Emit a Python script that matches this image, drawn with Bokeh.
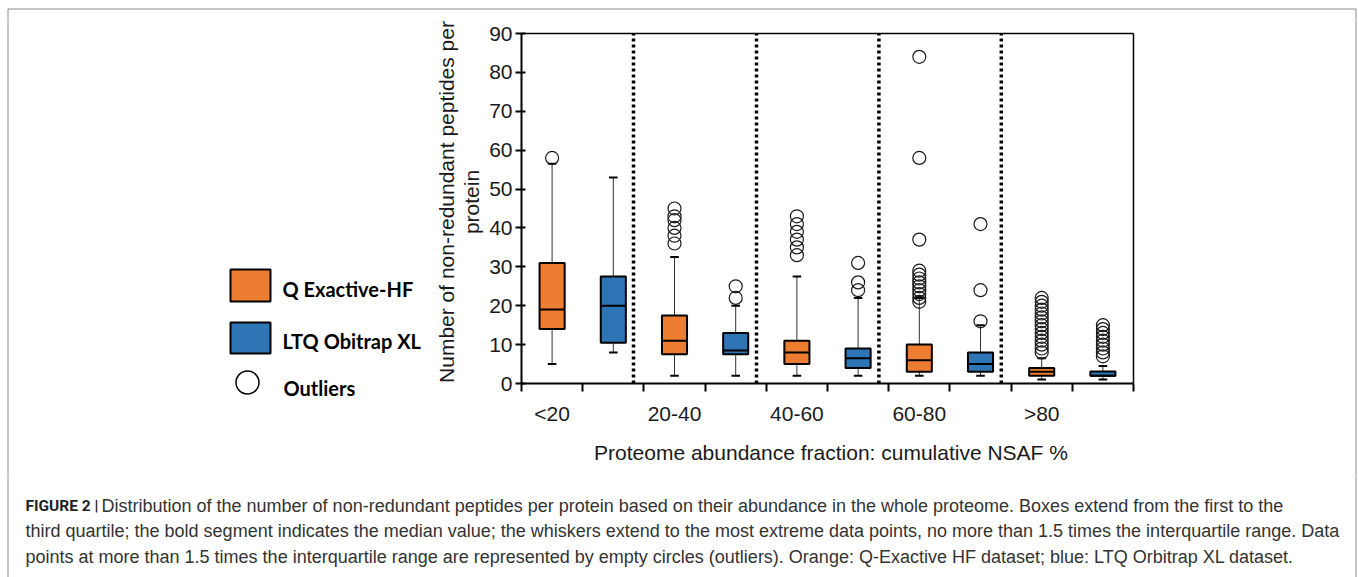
from bokeh.plotting import figure
from bokeh.layouts import column, row
from bokeh.models import Range1d, FixedTicker, ColumnDataSource
from bokeh.core.properties import value
from bokeh.embed import file_html
from bokeh.resources import INLINE

# ---------------- data ----------------
groups = ["<20", "20-40", "40-60", "60-80", ">80"]
series_names = ["Q Exactive-HF", "LTQ Obitrap XL"]
series_colors = ["#ED7D31", "#2E75B6"]

qe_whisker_low = [5, 2, 2, 2, 1]
qe_q1 = [14, 7.5, 5, 3, 2]
qe_median = [19, 11, 8, 6, 3]
qe_q3 = [31, 17.5, 11, 10, 4]
qe_whisker_high = [56.5, 32.5, 27.5, 22, 6.5]
qe_outliers = [
    [58],
    [36, 38, 40, 42, 43, 45],
    [33, 35, 37, 39, 41, 43],
    [21, 22, 23, 24, 25, 26, 27, 28, 29, 37, 58, 84],
    [8, 9, 10, 11, 12, 13, 14, 15, 16, 17, 18, 19, 20, 21, 22],
]

lo_whisker_low = [8, 2, 2, 2, 1]
lo_q1 = [10.5, 7.5, 4, 3, 2]
lo_median = [20, 8.5, 6.5, 5, 2]
lo_q3 = [27.5, 13, 9, 8, 3.1]
lo_whisker_high = [53, 20, 22, 15, 4.5]
lo_outliers = [
    [],
    [22, 25],
    [24, 26, 31],
    [16, 24, 41],
    [7, 8, 9, 10, 11, 12, 13, 14, 15],
]

y_ticks = [0, 10, 20, 30, 40, 50, 60, 70, 80, 90]
x_title = "Proteome abundance fraction: cumulative NSAF %"
y_title = "Number of non-redundant peptides per\nprotein"
legend_labels = series_names + ["Outliers"]
caption_bold = "FIGURE 2 |"
caption_lines = [
    "Distribution of the number of non-redundant peptides per protein based on their abundance in the whole proteome. Boxes extend from the first to the",
    "third quartile; the bold segment indicates the median value; the whiskers extend to the most extreme data points, no more than 1.5 times the interquartile range. Data",
    "points at more than 1.5 times the interquartile range are represented by empty circles (outliers). Orange: Q-Exactive HF dataset; blue: LTQ Orbitrap XL dataset.",
]

# ---------------- layout (page pixels) ----------------
PAGE_W, PAGE_H = 1358, 577
TOP_H = 20            # top strip holding the frame border
MID_BOTTOM = 475      # bottom of the chart row
LEG_W = 425           # legend column width
RIGHT_X = 1140        # where the right strip begins
PLOT_L, PLOT_T, PLOT_R, PLOT_B = 521, 33, 1133, 383   # plot box on the page
XMAX, YMAX = 10, 90
BOX_W = 0.41
CAP_W = 0.14
separators = [1.83, 3.84, 5.84, 7.84]
BORDER_L, BORDER_T, BORDER_R = 7.5, 8.5, 1355.5
BORDER_COLOR = "#8a8a8a"

mid_h = MID_BOTTOM - TOP_H


def no_align(f):
    if "frame_align" in f.properties():
        f.frame_align = False
    return f


def blank(w, h, x0, x1, y0, y1):
    f = figure(width=w, height=h, x_range=Range1d(x0, x1), y_range=Range1d(y1, y0),
               output_backend="svg", toolbar_location=None, title=None,
               x_axis_type=None, y_axis_type=None, min_border=0,
               outline_line_color=None)
    f.grid.visible = False
    return no_align(f)


# ---- top strip: border ----
top = blank(PAGE_W, TOP_H, 0, PAGE_W, 0, TOP_H)
top.segment(x0=[BORDER_L, BORDER_L, BORDER_R], y0=[BORDER_T, BORDER_T, BORDER_T],
            x1=[BORDER_R, BORDER_L, BORDER_R], y1=[BORDER_T, TOP_H, TOP_H],
            line_color=BORDER_COLOR, line_width=1)

# ---- legend column ----
leg = blank(LEG_W, mid_h, 0, LEG_W, TOP_H, MID_BOTTOM)
leg.segment(x0=[BORDER_L], y0=[TOP_H], x1=[BORDER_L], y1=[MID_BOTTOM],
            line_color=BORDER_COLOR, line_width=1)
leg.quad(left=[230, 230], right=[270, 270], top=[269, 322], bottom=[301, 353],
         fill_color=series_colors, line_color="black", line_width=2)
leg.scatter(x=[247], y=[382], size=23, marker="circle", fill_color=None,
            line_color="black", line_width=1.5)
leg.text(x=[282, 282, 283], y=[288, 340, 387], text=legend_labels,
         text_font=value("Lato"), text_font_style="bold", text_font_size="20px",
         text_color="black", text_baseline="middle", text_align="left")

# ---- main plot ----
main_w = RIGHT_X - LEG_W
px_per_x = (PLOT_R - PLOT_L) / XMAX
px_per_y = (PLOT_B - PLOT_T) / YMAX
x_end = (RIGHT_X - PLOT_L) / px_per_x
y_end = (PLOT_B - TOP_H) / px_per_y

p = figure(width=main_w, height=mid_h, x_range=Range1d(0, x_end), y_range=Range1d(0, y_end),
           output_backend="svg", toolbar_location=None, title=None,
           min_border_left=PLOT_L - LEG_W, min_border_right=0, min_border_top=0,
           min_border_bottom=MID_BOTTOM - PLOT_B, outline_line_color=None)
no_align(p)
p.xgrid.visible = False
p.ygrid.visible = False

stats = [
    (qe_whisker_low, qe_q1, qe_median, qe_q3, qe_whisker_high, qe_outliers),
    (lo_whisker_low, lo_q1, lo_median, lo_q3, lo_whisker_high, lo_outliers),
]

# dotted group separators
p.segment(x0=separators, y0=[0] * len(separators), x1=separators, y1=[YMAX] * len(separators),
          line_color="black", line_width=3.5, line_dash="3 3")

for s, (wl, q1, med, q3, wh, outs) in enumerate(stats):
    xs = [g * 2 + s + 0.5 for g in range(len(groups))]
    src = ColumnDataSource(dict(
        x=xs, wl=wl, q1=q1, med=med, q3=q3, wh=wh,
        bl=[x - BOX_W / 2 for x in xs], br=[x + BOX_W / 2 for x in xs],
        cl=[x - CAP_W / 2 for x in xs], cr=[x + CAP_W / 2 for x in xs],
    ))
    p.segment(x0="x", y0="wl", x1="x", y1="q1", source=src, line_color="#333333", line_width=1)
    p.segment(x0="x", y0="q3", x1="x", y1="wh", source=src, line_color="#333333", line_width=1)
    p.segment(x0="cl", y0="wl", x1="cr", y1="wl", source=src, line_color="black", line_width=2)
    p.segment(x0="cl", y0="wh", x1="cr", y1="wh", source=src, line_color="black", line_width=2)
    p.vbar(x="x", width=BOX_W, bottom="q1", top="q3", source=src,
           fill_color=series_colors[s], line_color="black", line_width=2)
    p.segment(x0="bl", y0="med", x1="br", y1="med", source=src, line_color="black", line_width=2)
    ox, oy = [], []
    for g, vals in enumerate(outs):
        for v in vals:
            ox.append(xs[g])
            oy.append(v)
    p.scatter(x=ox, y=oy, size=13, marker="circle", fill_color=None,
              line_color="#1a1a1a", line_width=1.2)

# top and right edges of the plot box
p.segment(x0=[0, XMAX], y0=[YMAX, 0], x1=[XMAX, XMAX], y1=[YMAX, YMAX],
          line_color="black", line_width=1.5)

# y axis
ya = p.yaxis[0]
ya.bounds = (0, YMAX)
ya.ticker = FixedTicker(ticks=y_ticks)
ya.axis_line_width = 2
ya.major_tick_line_width = 2
ya.major_tick_in = 4
ya.major_tick_out = 6
ya.minor_tick_line_color = None
ya.major_label_text_font = "Liberation Sans"
ya.major_label_text_font_size = "21px"
ya.major_label_text_color = "#1a1a1a"
ya.major_label_standoff = 3
ya.axis_label = y_title
ya.axis_label_text_font = "Liberation Sans"
ya.axis_label_text_font_size = "21px"
ya.axis_label_text_font_style = "normal"
ya.axis_label_text_color = "#1a1a1a"
ya.axis_label_text_line_height = 1.1
ya.axis_label_standoff = 3

# x axis
xa = p.xaxis[0]
xa.bounds = (0, XMAX)
xa.ticker = FixedTicker(ticks=[g * 2 + 0.5 for g in range(len(groups))],
                        minor_ticks=list(range(0, XMAX + 1)))
xa.major_label_overrides = {g * 2 + 0.5: lab for g, lab in enumerate(groups)}
xa.axis_line_width = 2
xa.major_tick_out = 0
xa.major_tick_in = 0
xa.minor_tick_out = 8
xa.minor_tick_in = 0
xa.minor_tick_line_width = 2
xa.minor_tick_line_color = "black"
xa.major_label_text_font = "Liberation Sans"
xa.major_label_text_font_size = "21px"
xa.major_label_text_color = "#1a1a1a"
xa.major_label_standoff = 10
xa.axis_label = x_title
xa.axis_label_text_font = "Liberation Sans"
xa.axis_label_text_font_size = "21px"
xa.axis_label_text_font_style = "normal"
xa.axis_label_text_color = "#1a1a1a"
xa.axis_label_standoff = 13

# ---- right strip: border ----
rgt = blank(PAGE_W - RIGHT_X, mid_h, RIGHT_X, PAGE_W, TOP_H, MID_BOTTOM)
rgt.segment(x0=[BORDER_R], y0=[TOP_H], x1=[BORDER_R], y1=[MID_BOTTOM],
            line_color=BORDER_COLOR, line_width=1)

# ---- caption ----
cap = blank(PAGE_W, PAGE_H - MID_BOTTOM, 0, PAGE_W, MID_BOTTOM, PAGE_H)
cap.segment(x0=[BORDER_L, BORDER_R], y0=[MID_BOTTOM, MID_BOTTOM], x1=[BORDER_L, BORDER_R],
            y1=[PAGE_H, PAGE_H], line_color=BORDER_COLOR, line_width=1)
cap_y = [505, 530, 556]
cap.text(x=[25], y=[cap_y[0]], text=[caption_bold], text_font=value("Roboto"),
         text_font_style="bold", text_font_size="15.5px", text_color="#222222",
         text_baseline="middle", text_align="left")
cap.text(x=[101, 25, 25], y=cap_y, text=caption_lines, text_font=value("Liberation Sans"),
         text_font_size="18px", text_color="#333333",
         text_baseline="middle", text_align="left")

layout = column(top, row(leg, p, rgt, spacing=0), cap, spacing=0)
open("out.html", "w").write(file_html(layout, INLINE))
